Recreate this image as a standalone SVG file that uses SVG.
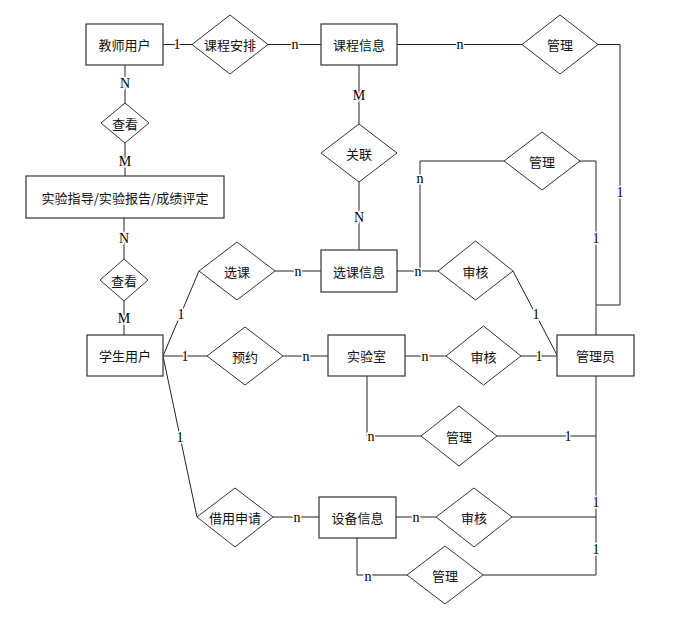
<svg xmlns="http://www.w3.org/2000/svg" width="675" height="625" viewBox="0 0 675 625">
<style>
.bg{fill:#fff}
.box{fill:#fff;stroke:#333;stroke-width:1.2}
.dia{fill:#fff;stroke:#333;stroke-width:1}
.ln{fill:none;stroke:#222;stroke-width:1}
.t{font-family:"Noto Sans CJK SC","Noto Sans",sans-serif;font-size:13px;fill:#111;text-anchor:middle;dominant-baseline:central}
.lbl{font-family:"Liberation Serif",serif;font-size:14px;fill:#000;text-anchor:middle;dominant-baseline:central;stroke:#fff;stroke-width:3;paint-order:stroke}
</style>
<rect class="bg" x="0" y="0" width="675" height="625"/>
<g id="connectors">
  <path class="ln" d="M163,44.5 H192"/>
  <path class="ln" d="M268,44.5 H321"/>
  <path class="ln" d="M397,44.5 H522"/>
  <path class="ln" d="M598,44.5 H620 V305 H596"/>
  <path class="ln" d="M125,65 V103"/>
  <path class="ln" d="M125,143 V176"/>
  <path class="ln" d="M124,218 V259"/>
  <path class="ln" d="M124,301 V335"/>
  <path class="ln" d="M359,65 V124"/>
  <path class="ln" d="M359,182 V250"/>
  <path class="ln" d="M163,356 L199,271"/>
  <path class="ln" d="M275,271 H321"/>
  <path class="ln" d="M397,271 H438"/>
  <path class="ln" d="M504,161 H420 V271"/>
  <path class="ln" d="M580,161 H596 V335"/>
  <path class="ln" d="M513,271 L557,355"/>
  <path class="ln" d="M163,356 H207"/>
  <path class="ln" d="M283,356 H328"/>
  <path class="ln" d="M405,356 H446"/>
  <path class="ln" d="M521,356 H557"/>
  <path class="ln" d="M596,376 V575"/>
  <path class="ln" d="M367,376 V436 H421"/>
  <path class="ln" d="M497,436 H596"/>
  <path class="ln" d="M163,356 L197,517"/>
  <path class="ln" d="M273,517 H319"/>
  <path class="ln" d="M396,517 H436"/>
  <path class="ln" d="M512,517 H596"/>
  <path class="ln" d="M357,538 V575 H407"/>
  <path class="ln" d="M483,575 H596"/>
  <text class="lbl" x="177" y="44.5">1</text>
  <text class="lbl" x="295" y="44.5">n</text>
  <text class="lbl" x="460" y="44.5">n</text>
  <text class="lbl" x="125" y="83">N</text>
  <text class="lbl" x="125" y="161">M</text>
  <text class="lbl" x="124" y="238">N</text>
  <text class="lbl" x="124" y="318">M</text>
  <text class="lbl" x="359" y="95">M</text>
  <text class="lbl" x="359" y="217">N</text>
  <text class="lbl" x="181" y="314">1</text>
  <text class="lbl" x="298" y="271">n</text>
  <text class="lbl" x="418" y="271">n</text>
  <text class="lbl" x="420" y="178">n</text>
  <text class="lbl" x="620" y="192">1</text>
  <text class="lbl" x="596" y="238">1</text>
  <text class="lbl" x="536" y="314">1</text>
  <text class="lbl" x="185" y="356">1</text>
  <text class="lbl" x="306" y="356">n</text>
  <text class="lbl" x="425" y="356">n</text>
  <text class="lbl" x="539" y="356">1</text>
  <text class="lbl" x="371" y="436">n</text>
  <text class="lbl" x="568" y="436">1</text>
  <text class="lbl" x="180" y="437">1</text>
  <text class="lbl" x="297" y="517">n</text>
  <text class="lbl" x="416" y="517">n</text>
  <text class="lbl" x="596" y="502">1</text>
  <text class="lbl" x="596" y="549">1</text>
  <text class="lbl" x="368" y="576">n</text>
</g>
<g id="teacher"><rect class="box" x="86" y="24" width="77" height="41"/><text class="t" x="124.5" y="44.5">教师用户</text></g>
<g id="kcap"><polygon class="dia" points="192,44.5 230,15 268,44.5 230,74"/><text class="t" x="230" y="44.5">课程安排</text></g>
<g id="kcxx"><rect class="box" x="321" y="24" width="76" height="41"/><text class="t" x="359" y="44.5">课程信息</text></g>
<g id="gl1"><polygon class="dia" points="522,44.5 560,15 598,44.5 560,74"/><text class="t" x="560" y="44.5">管理</text></g>
<g id="ck1"><polygon class="dia" points="101,123 125,103 149,123 125,143"/><text class="t" x="125" y="123">查看</text></g>
<g id="syzd"><rect class="box" x="26" y="176" width="198" height="42"/><text class="t" x="125" y="197" font-size="14" textLength="167" lengthAdjust="spacingAndGlyphs">实验指导/实验报告/成绩评定</text></g>
<g id="gl"><polygon class="dia" points="321,153 359,124 397,153 359,182"/><text class="t" x="359" y="153">关联</text></g>
<g id="gl2"><polygon class="dia" points="504,161 542,132 580,161 542,190"/><text class="t" x="542" y="161">管理</text></g>
<g id="ck2"><polygon class="dia" points="100,280 124,259 148,280 124,301"/><text class="t" x="124" y="280">查看</text></g>
<g id="xk"><polygon class="dia" points="199,271 237,242 275,271 237,300"/><text class="t" x="237" y="271">选课</text></g>
<g id="xkxx"><rect class="box" x="321" y="250" width="76" height="42"/><text class="t" x="359" y="271">选课信息</text></g>
<g id="sh1"><polygon class="dia" points="438,271 475.5,241 513,271 475.5,300"/><text class="t" x="475.5" y="271">审核</text></g>
<g id="student"><rect class="box" x="87" y="335" width="76" height="41"/><text class="t" x="125" y="355.5">学生用户</text></g>
<g id="yy"><polygon class="dia" points="207,356 245,327 283,356 245,385"/><text class="t" x="245" y="356">预约</text></g>
<g id="sys"><rect class="box" x="328" y="335" width="77" height="41"/><text class="t" x="366.5" y="355.5">实验室</text></g>
<g id="sh2"><polygon class="dia" points="446,356 483.5,326 521,356 483.5,385"/><text class="t" x="483.5" y="356">审核</text></g>
<g id="admin"><rect class="box" x="557" y="335" width="77" height="41"/><text class="t" x="595.5" y="355.5">管理员</text></g>
<g id="gl3"><polygon class="dia" points="421,436 459,406 497,436 459,466"/><text class="t" x="459" y="436">管理</text></g>
<g id="jysq"><polygon class="dia" points="197,517 235,488 273,517 235,547"/><text class="t" x="235" y="517">借用申请</text></g>
<g id="sbxx"><rect class="box" x="319" y="497" width="77" height="41"/><text class="t" x="357.5" y="517">设备信息</text></g>
<g id="sh3"><polygon class="dia" points="436,517 474,488 512,517 474,547"/><text class="t" x="474" y="517">审核</text></g>
<g id="gl4"><polygon class="dia" points="407,575 445,546 483,575 445,604"/><text class="t" x="445" y="575">管理</text></g>
</svg>
